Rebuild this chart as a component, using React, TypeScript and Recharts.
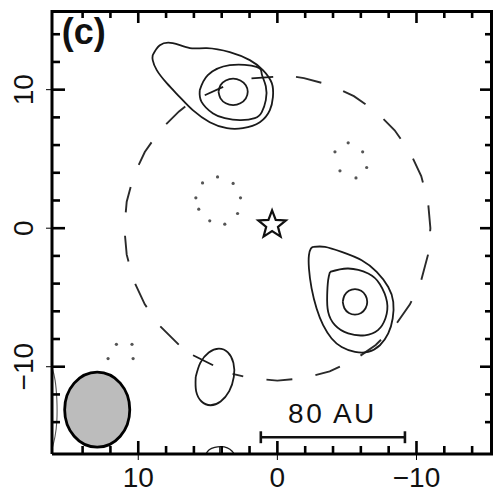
import React from 'react';
import { ComposedChart, XAxis, YAxis, Line, Scatter } from 'recharts';

type P = { x: number; y: number };

const FONT = '"Liberation Sans", Arial, Helvetica, sans-serif';

const CHART_W = 497;
const CHART_H = 493;
const MARGIN = { top: 10, right: 4, bottom: 0, left: 0 };
const Y_AXIS_W = 52;
const X_AXIS_H = 39;

const xDomain: [number, number] = [-15.5, 16.2];
const yDomain: [number, number] = [-16.3, 15.75];
const xTicks = [14, 12, 10, 8, 6, 4, 2, 0, -2, -4, -6, -8, -10, -12, -14];
const yTicks = [-14, -12, -10, -8, -6, -4, -2, 0, 2, 4, 6, 8, 10, 12, 14];
const majorTicks = [10, 0, -10];

const PX_X = (CHART_W - MARGIN.left - MARGIN.right - Y_AXIS_W) / (xDomain[1] - xDomain[0]);
const PX_Y = (CHART_H - MARGIN.top - MARGIN.bottom - X_AXIS_H) / (yDomain[1] - yDomain[0]);

const upperOuter: P[] = [
  { x: 8.96, y: 12.49 }, { x: 8.45, y: 13.21 }, { x: 7.52, y: 13.36 }, { x: 6.29, y: 13.0 },
  { x: 5.07, y: 13.0 }, { x: 3.42, y: 12.71 }, { x: 1.98, y: 12.13 }, { x: 1.04, y: 11.41 },
  { x: 0.4, y: 10.47 }, { x: 0.32, y: 9.46 }, { x: 0.54, y: 8.52 }, { x: 1.26, y: 7.65 },
  { x: 2.48, y: 7.22 }, { x: 3.63, y: 7.22 }, { x: 4.86, y: 7.65 }, { x: 6.08, y: 8.52 },
  { x: 7.01, y: 9.46 }, { x: 7.95, y: 10.47 }, { x: 8.67, y: 11.41 }, { x: 8.96, y: 12.13 },
  { x: 8.96, y: 12.49 },
];
const upperMiddle: P[] = [
  { x: 5.58, y: 9.96 }, { x: 5.0, y: 11.05 }, { x: 3.42, y: 11.77 }, { x: 1.5, y: 11.65 },
  { x: 1.12, y: 11.12 }, { x: 0.83, y: 10.25 }, { x: 0.83, y: 9.24 }, { x: 1.12, y: 8.38 },
  { x: 1.62, y: 7.94 }, { x: 2.7, y: 7.8 }, { x: 3.78, y: 7.94 }, { x: 4.62, y: 8.28 },
  { x: 5.45, y: 9.12 }, { x: 5.58, y: 9.96 },
];
const upperInner: P[] = [
  { x: 4.23, y: 9.84 }, { x: 4.09, y: 10.32 }, { x: 3.71, y: 10.66 }, { x: 3.18, y: 10.79 },
  { x: 2.66, y: 10.66 }, { x: 2.27, y: 10.32 }, { x: 2.13, y: 9.84 }, { x: 2.27, y: 9.37 },
  { x: 2.66, y: 9.02 }, { x: 3.18, y: 8.89 }, { x: 3.71, y: 9.02 }, { x: 4.09, y: 9.37 },
  { x: 4.23, y: 9.84 },
];
const upperCrossA: P[] = [{ x: 5.22, y: 9.6 }, { x: 3.9, y: 10.2 }];
const upperCrossB: P[] = [{ x: 1.86, y: 10.81 }, { x: 0.3, y: 10.92 }];

const lowerOuter: P[] = [
  { x: -2.58, y: -1.35 }, { x: -3.42, y: -1.35 }, { x: -4.62, y: -1.71 }, { x: -6.06, y: -2.31 },
  { x: -7.14, y: -3.16 }, { x: -7.97, y: -4.24 }, { x: -8.33, y: -5.32 }, { x: -8.29, y: -6.52 },
  { x: -7.97, y: -7.6 }, { x: -7.37, y: -8.45 }, { x: -6.53, y: -8.93 }, { x: -5.58, y: -8.93 },
  { x: -4.62, y: -8.57 }, { x: -3.9, y: -7.96 }, { x: -3.29, y: -7.0 }, { x: -2.82, y: -5.8 },
  { x: -2.46, y: -4.35 }, { x: -2.27, y: -2.91 }, { x: -2.27, y: -1.95 }, { x: -2.41, y: -1.47 },
  { x: -2.58, y: -1.35 },
];
const lowerMiddle: P[] = [
  { x: -3.78, y: -3.16 }, { x: -5.09, y: -2.91 }, { x: -6.53, y: -3.27 }, { x: -7.37, y: -4.04 },
  { x: -7.88, y: -5.32 }, { x: -7.77, y: -6.5 }, { x: -7.23, y: -7.36 }, { x: -6.29, y: -7.73 },
  { x: -5.09, y: -7.6 }, { x: -4.14, y: -7.0 }, { x: -3.65, y: -6.04 }, { x: -3.58, y: -4.84 },
  { x: -3.65, y: -3.75 }, { x: -3.78, y: -3.16 },
];
const lowerInner: P[] = [
  { x: -4.7, y: -5.32 }, { x: -4.82, y: -4.86 }, { x: -5.14, y: -4.52 }, { x: -5.58, y: -4.4 },
  { x: -6.02, y: -4.52 }, { x: -6.34, y: -4.86 }, { x: -6.46, y: -5.32 }, { x: -6.34, y: -5.78 },
  { x: -6.02, y: -6.12 }, { x: -5.58, y: -6.24 }, { x: -5.14, y: -6.12 }, { x: -4.82, y: -5.78 },
  { x: -4.7, y: -5.32 },
];

const smallEllipse: P[] = [
  { x: 5.87, y: -10.74 }, { x: 5.54, y: -9.72 }, { x: 4.93, y: -8.97 }, { x: 4.2, y: -8.7 },
  { x: 3.56, y: -8.97 }, { x: 3.16, y: -9.72 }, { x: 3.13, y: -10.74 }, { x: 3.46, y: -11.76 },
  { x: 4.08, y: -12.51 }, { x: 4.8, y: -12.78 }, { x: 5.45, y: -12.51 }, { x: 5.84, y: -11.76 },
  { x: 5.87, y: -10.74 },
];
const smallCross: P[] = [{ x: 6.06, y: -9.17 }, { x: 4.62, y: -9.89 }];

const bottomArc: P[] = [
  { x: 5.15, y: -16.32 }, { x: 4.9, y: -16.0 }, { x: 4.5, y: -15.82 }, { x: 4.06, y: -15.77 },
  { x: 3.6, y: -15.86 }, { x: 3.25, y: -16.1 }, { x: 3.1, y: -16.32 },
];
const bottomStem: P[] = [{ x: 4.14, y: -15.78 }, { x: 4.14, y: -16.3 }];
const leftArc: P[] = [
  { x: 16.22, y: -9.96 }, { x: 15.98, y: -10.97 }, { x: 15.85, y: -12.42 }, { x: 15.85, y: -13.86 },
  { x: 15.98, y: -15.02 }, { x: 16.22, y: -16.03 },
];

// dashed ring (radius ~11), drawn in two visible arcs
const ringArcA: P[] = [
  { x: -1.34, y: 10.92 }, { x: -1.91, y: 10.83 }, { x: -3.76, y: 10.34 }, { x: -5.5, y: 9.53 },
  { x: -7.07, y: 8.43 }, { x: -8.43, y: 7.07 }, { x: -9.53, y: 5.5 }, { x: -10.34, y: 3.76 },
  { x: -10.83, y: 1.91 }, { x: -11.0, y: 0 }, { x: -10.83, y: -1.91 }, { x: -10.34, y: -3.76 },
  { x: -9.53, y: -5.5 }, { x: -8.43, y: -7.07 }, { x: -7.07, y: -8.43 }, { x: -5.5, y: -9.53 },
  { x: -3.76, y: -10.34 }, { x: -1.91, y: -10.83 }, { x: 0, y: -11.0 }, { x: 1.91, y: -10.83 },
  { x: 3.22, y: -10.52 },
];
const ringArcB: P[] = [
  { x: 6.62, y: 8.78 }, { x: 7.07, y: 8.43 }, { x: 8.43, y: 7.07 }, { x: 9.53, y: 5.5 },
  { x: 10.34, y: 3.76 }, { x: 10.83, y: 1.91 }, { x: 11.0, y: 0 }, { x: 10.83, y: -1.91 },
  { x: 10.34, y: -3.76 }, { x: 9.53, y: -5.5 }, { x: 8.43, y: -7.07 }, { x: 7.07, y: -8.43 },
  { x: 5.99, y: -9.23 },
];

// beam: centre and semi-axes in axis units
const beam = [{ x: 12.95, y: -13.1, rx: 2.34, ry: 2.71 }];

const dotsA: P[] = [
  { x: 4.3, y: 3.7 }, { x: 5.38, y: 3.27 }, { x: 3.18, y: 3.23 }, { x: 5.86, y: 2.19 }, { x: 2.65, y: 2.19 },
  { x: 5.65, y: 1.37 }, { x: 2.86, y: 1.06 }, { x: 4.86, y: 0.53 }, { x: 3.78, y: 0.29 },
];
const dotsB: P[] = [
  { x: -5.09, y: 6.16 }, { x: -4.14, y: 5.51 }, { x: -6.13, y: 5.51 }, { x: -4.5, y: 4.14 },
  { x: -6.42, y: 4.38 }, { x: -5.65, y: 3.63 },
];
const dotsC: P[] = [
  { x: 11.57, y: -8.38 }, { x: 10.45, y: -8.38 }, { x: 12.17, y: -9.41 }, { x: 10.37, y: -9.41 },
];

const starPos: P[] = [{ x: 0.38, y: 0.24 }];

const scaleBar: P[] = [{ x: 1.19, y: -15.09 }, { x: -9.17, y: -15.09 }];
const scaleCapL: P[] = [{ x: 1.19, y: -14.66 }, { x: 1.19, y: -15.52 }];
const scaleCapR: P[] = [{ x: -9.17, y: -14.66 }, { x: -9.17, y: -15.52 }];

const panelLabel = [{ x: 15.5, y: 13.29, text: '(c)' }];
const scaleLabel = [{ x: -3.96, y: -14.08, text: '80 AU' }];

// frame edges and tick marks (drawn in an overlay chart with the same scales)
const topEdge: P[] = [{ x: 16.2, y: 15.75 }, { x: -15.5, y: 15.75 }];
const rightEdge: P[] = [{ x: -15.5, y: 15.75 }, { x: -15.5, y: -16.3 }];
const bottomTickPts = xTicks.map((v) => ({ x: v, y: -16.3, major: majorTicks.includes(v) }));
const topTickPts = xTicks.map((v) => ({ x: v, y: 15.75, major: majorTicks.includes(v) }));
const leftTickPts = yTicks.map((v) => ({ x: 16.2, y: v, major: majorTicks.includes(v) }));
const rightTickPts = yTicks.map((v) => ({ x: -15.5, y: v, major: majorTicks.includes(v) }));

const TickShape = (p: any) => {
  const L = p.payload && p.payload.major ? 13 : 8;
  const dx = p.dirx || 0;
  const dy = p.diry || 0;
  return <path d={`M${p.cx},${p.cy}L${p.cx + dx * L},${p.cy + dy * L}`} stroke={p.col} strokeWidth={2.6} fill="none" />;
};
const BeamShape = (p: any) => (
  <ellipse cx={p.cx} cy={p.cy} rx={p.payload.rx * PX_X} ry={p.payload.ry * PX_Y} fill="#bcbcbc" stroke="#000" strokeWidth={2.8} />
);
const StarShape = (p: any) => {
  const { cx, cy } = p;
  const pts: string[] = [];
  for (let i = 0; i < 10; i++) {
    const r = i % 2 === 0 ? 14.5 : 6.2;
    const a = -Math.PI / 2 + (i * Math.PI) / 5;
    pts.push(`${cx + r * Math.cos(a)},${cy + r * Math.sin(a)}`);
  }
  return <polygon points={pts.join(' ')} fill="#fff" stroke="#111" strokeWidth={2.2} />;
};
const DotShape = (p: any) => <circle cx={p.cx} cy={p.cy} r={1.6} fill="#555" />;
const PanelText = (p: any) => (
  <text x={p.cx} y={p.cy} fontSize={36} fontWeight="bold" fontFamily={FONT} fill="#111">
    {p.payload.text}
  </text>
);
const ScaleText = (p: any) => (
  <text x={p.cx} y={p.cy} textAnchor="middle" fontSize={28} letterSpacing={2.5} fontFamily={FONT} fill="#111">
    {p.payload.text}
  </text>
);

const fmt = (v: number) => (v < 0 ? `\u2212${-v}` : String(v));
const blank = () => '';
const bottomTickText = { fontSize: 28, fontFamily: FONT, fill: '#111' };
const leftTickText = { fontSize: 28, fontFamily: FONT, fill: '#111', angle: -90, textAnchor: 'middle' };

const common = {
  xAxisId: 'b',
  yAxisId: 'l',
  dataKey: 'y',
  dot: false,
  isAnimationActive: false,
};
const solid = { stroke: '#1a1a1a', strokeWidth: 1.8, type: 'natural' as const };
const straight = { stroke: '#1a1a1a', strokeWidth: 1.8, type: 'linear' as const };
const sc = { xAxisId: 'b', yAxisId: 'l', dataKey: 'y', isAnimationActive: false };

function FrameOverlay() {
  return (
    <ComposedChart width={CHART_W} height={CHART_H} margin={MARGIN}>
      <XAxis xAxisId="b" orientation="bottom" type="number" dataKey="x" domain={xDomain} reversed allowDataOverflow
        height={X_AXIS_H} ticks={majorTicks} interval={0} stroke="#000" tickFormatter={blank} />
      <YAxis yAxisId="l" orientation="left" type="number" dataKey="y" domain={yDomain} allowDataOverflow
        width={Y_AXIS_W} ticks={majorTicks} interval={0} stroke="#000" tickFormatter={blank} />
      <Line xAxisId="b" yAxisId="l" dataKey="y" data={topEdge} stroke="#000" strokeWidth={6} dot={false} isAnimationActive={false} />
      <Line xAxisId="b" yAxisId="l" dataKey="y" data={rightEdge} stroke="#000" strokeWidth={6} dot={false} isAnimationActive={false} />
      <Scatter xAxisId="b" yAxisId="l" dataKey="y" data={bottomTickPts} shape={<TickShape dirx={0} diry={-1} col="#000" />} isAnimationActive={false} />
      <Scatter xAxisId="b" yAxisId="l" dataKey="y" data={topTickPts} shape={<TickShape dirx={0} diry={1} col="#000" />} isAnimationActive={false} />
      <Scatter xAxisId="b" yAxisId="l" dataKey="y" data={leftTickPts} shape={<TickShape dirx={1} diry={0} col="#000" />} isAnimationActive={false} />
      <Scatter xAxisId="b" yAxisId="l" dataKey="y" data={rightTickPts} shape={<TickShape dirx={-1} diry={0} col="#000" />} isAnimationActive={false} />
    </ComposedChart>
  );
}

export default function App() {
  return (
    <div style={{ position: 'absolute', left: 0, top: 0, width: CHART_W, height: CHART_H, background: '#fff' }}>
      <div style={{ position: 'absolute', left: 0, top: 0 }}>
        <ComposedChart width={CHART_W} height={CHART_H} margin={MARGIN}>
          <XAxis xAxisId="b" orientation="bottom" type="number" dataKey="x" domain={xDomain} reversed allowDataOverflow
            height={X_AXIS_H} ticks={majorTicks} interval={0} tickLine={false} tickSize={0} tickMargin={13}
            stroke="#000" strokeWidth={3} tickFormatter={fmt} tick={bottomTickText} />
          <YAxis yAxisId="l" orientation="left" type="number" dataKey="y" domain={yDomain} allowDataOverflow
            width={Y_AXIS_W} ticks={majorTicks} interval={0} tickLine={false} tickSize={0} tickMargin={29}
            stroke="#000" strokeWidth={3} tickFormatter={fmt} tick={leftTickText} />

          <Scatter {...sc} data={beam} shape={<BeamShape />} />

          <Line {...common} data={ringArcA} stroke="#2a2a2a" strokeWidth={1.9} type="linear" strokeDasharray="26 23.5" />
          <Line {...common} data={ringArcB} stroke="#2a2a2a" strokeWidth={1.9} type="linear" strokeDasharray="26 23.5" />

          <Line {...common} {...solid} data={upperOuter} />
          <Line {...common} {...solid} data={upperMiddle} />
          <Line {...common} {...solid} data={upperInner} />
          <Line {...common} {...straight} data={upperCrossA} />
          <Line {...common} {...straight} data={upperCrossB} />

          <Line {...common} {...solid} data={lowerOuter} />
          <Line {...common} {...solid} data={lowerMiddle} />
          <Line {...common} {...solid} data={lowerInner} />

          <Line {...common} {...solid} data={smallEllipse} />
          <Line {...common} {...straight} data={smallCross} />

          <Line {...common} {...solid} strokeWidth={1.3} data={bottomArc} />
          <Line {...common} {...straight} strokeWidth={1.3} data={bottomStem} />
          <Line {...common} {...solid} strokeWidth={1.1} stroke="#555" data={leftArc} />

          <Line {...common} stroke="#111" strokeWidth={2.6} type="linear" data={scaleBar} />
          <Line {...common} stroke="#111" strokeWidth={2.6} type="linear" data={scaleCapL} />
          <Line {...common} stroke="#111" strokeWidth={2.6} type="linear" data={scaleCapR} />

          <Scatter {...sc} data={dotsA} shape={<DotShape />} />
          <Scatter {...sc} data={dotsB} shape={<DotShape />} />
          <Scatter {...sc} data={dotsC} shape={<DotShape />} />
          <Scatter {...sc} data={starPos} shape={<StarShape />} />
          <Scatter {...sc} data={panelLabel} shape={<PanelText />} />
          <Scatter {...sc} data={scaleLabel} shape={<ScaleText />} />
        </ComposedChart>
      </div>
      <div style={{ position: 'absolute', left: 0, top: 0, pointerEvents: 'none' }}>
        <FrameOverlay />
      </div>
    </div>
  );
}
